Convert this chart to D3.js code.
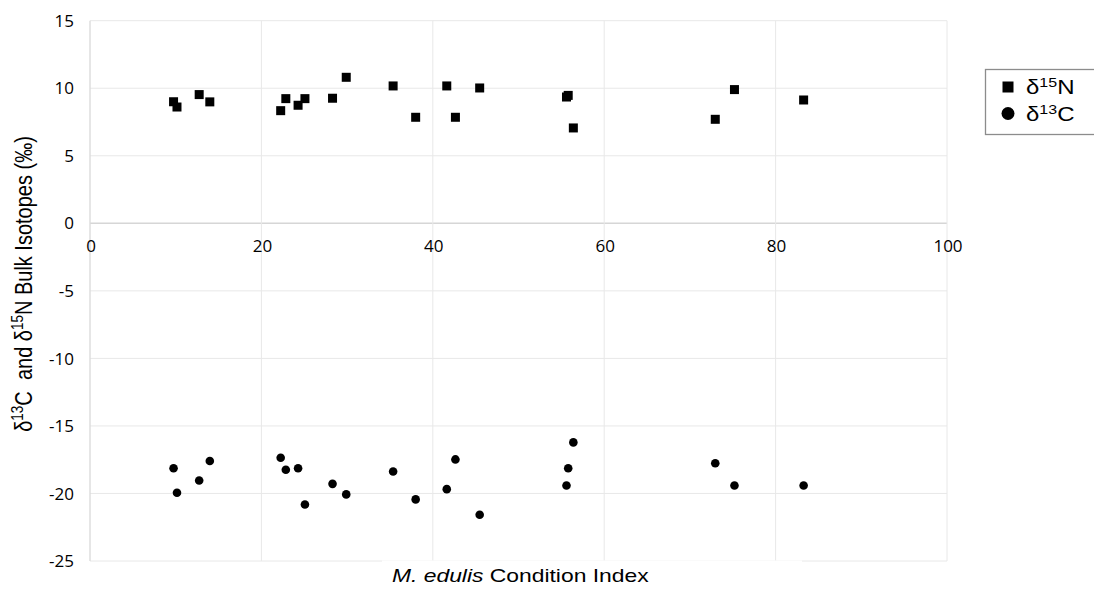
<!DOCTYPE html>
<html>
<head>
<meta charset="utf-8">
<script src="https://cdn.jsdelivr.net/npm/d3@7"></script>
<style>
  body { margin: 0; background: #fff; }
  svg { display: block; }
  text { white-space: pre; }
</style>
</head>
<body>
<svg id="chart" width="1094" height="591"></svg>
<script>
// condition index of each mussel sample
const conditionIndex = [9.75, 10.15, 12.74, 13.98, 22.25, 22.85, 24.28, 25.08, 28.3, 29.9, 35.37,
  38.0, 41.63, 42.64, 45.47, 55.6, 55.8, 56.4, 72.96, 75.2, 83.27];
// bulk d15N (per mil)
const d15N = [9.0, 8.61, 9.53, 8.99, 8.34, 9.23, 8.74, 9.23, 9.26, 10.81, 10.17,
  7.85, 10.17, 7.85, 10.02, 9.35, 9.47, 7.06, 7.7, 9.9, 9.13];
// bulk d13C (per mil)
const d13C = [-18.13, -19.95, -19.04, -17.6, -17.36, -18.25, -18.13, -20.82, -19.29, -20.07, -18.37,
  -20.44, -19.68, -17.48, -21.58, -19.41, -18.13, -16.22, -17.76, -19.41, -19.41];

const xTicks = [0, 20, 40, 60, 80, 100];
const yTicks = [-25, -20, -15, -10, -5, 0, 5, 10, 15];

const svg = d3.select("#chart");
const x = d3.scaleLinear().domain([0, 100]).range([90, 947]);
const y = d3.scaleLinear().domain([-25, 15]).range([561, 20.7]);

const tickFont = "'Open Sans', sans-serif";
const titleFont = "'Liberation Sans', Arial, sans-serif";
// the original picture is a little stretched sideways
const STRETCH = 1.23;

// grid
const grid = svg.append("g").attr("class", "grid");
grid.selectAll("line.h")
  .data(yTicks)
  .enter()
  .append("line")
  .attr("class", "h")
  .attr("x1", x(0))
  .attr("x2", x(100))
  .attr("y1", (d) => y(d))
  .attr("y2", (d) => y(d))
  .attr("stroke", (d) => (d === 0 ? "#d6d6d6" : "#e8e8e8"))
  .attr("stroke-width", (d) => (d === 0 ? 1.6 : 1));
grid.selectAll("line.v")
  .data(xTicks)
  .enter()
  .append("line")
  .attr("class", "v")
  .attr("x1", (d) => x(d))
  .attr("x2", (d) => x(d))
  .attr("y1", y(15))
  .attr("y2", y(-25))
  .attr("stroke", (d) => (d === 0 ? "#dcdcdc" : "#e8e8e8"))
  .attr("stroke-width", (d) => (d === 0 ? 1.4 : 1));

// y tick labels
svg.append("g")
  .selectAll("text")
  .data(yTicks)
  .enter()
  .append("text")
  .attr("x", 74)
  .attr("y", (d) => y(d))
  .attr("dy", "0.36em")
  .attr("text-anchor", "end")
  .attr("font-family", tickFont)
  .attr("font-size", 17)
  .attr("fill", "#000")
  .text((d) => d);

// x tick labels sit under the zero line
svg.append("g")
  .selectAll("text")
  .data(xTicks)
  .enter()
  .append("text")
  .attr("x", (d) => x(d) + 1)
  .attr("y", y(0) + 29)
  .attr("text-anchor", "middle")
  .attr("font-family", tickFont)
  .attr("font-size", 17)
  .attr("fill", "#000")
  .text((d) => d);

// d15N squares
const sq = 9;
svg.append("g")
  .selectAll("rect")
  .data(conditionIndex)
  .enter()
  .append("rect")
  .attr("x", (d) => x(d) - sq / 2)
  .attr("y", (d, i) => y(d15N[i]) - sq / 2)
  .attr("width", sq)
  .attr("height", sq)
  .attr("fill", "#000");

// d13C circles
svg.append("g")
  .selectAll("circle")
  .data(conditionIndex)
  .enter()
  .append("circle")
  .attr("cx", (d) => x(d))
  .attr("cy", (d, i) => y(d13C[i]))
  .attr("r", 4.3)
  .attr("fill", "#000");

// x title (its white box hides part of the frame)
svg.append("rect")
  .attr("x", 382)
  .attr("y", 560.5)
  .attr("width", 420)
  .attr("height", 31)
  .attr("fill", "#fff");
const xTitle = svg.append("text")
  .attr("transform", `translate(392,582) scale(${STRETCH},1)`)
  .attr("font-family", titleFont)
  .attr("font-size", 18.6)
  .attr("fill", "#000");
xTitle.append("tspan").attr("font-style", "italic").text("M. edulis");
xTitle.append("tspan").text(" Condition Index");

// y title
const yTitle = svg.append("text")
  .attr("transform", `translate(32,284) scale(${STRETCH},1) rotate(-90)`)
  .attr("text-anchor", "middle")
  .attr("font-family", titleFont)
  .attr("font-size", 20)
  .attr("fill", "#000");
yTitle.append("tspan").text("δ");
yTitle.append("tspan").attr("font-size", 13.5).attr("dy", -7).text("13");
yTitle.append("tspan").attr("dy", 7).text("C  and δ");
yTitle.append("tspan").attr("font-size", 13.5).attr("dy", -7).text("15");
yTitle.append("tspan").attr("dy", 7).text("N Bulk Isotopes (‰)");

// legend
const legend = svg.append("g").attr("class", "legend");
legend.append("rect")
  .attr("x", 985.5)
  .attr("y", 69.5)
  .attr("width", 120)
  .attr("height", 65)
  .attr("fill", "#fff")
  .attr("stroke", "#8c8c8c")
  .attr("stroke-width", 1.3);
legend.append("rect")
  .attr("x", 1008 - 5.5)
  .attr("y", 87 - 5.5)
  .attr("width", 11)
  .attr("height", 11)
  .attr("fill", "#000");
legend.append("ellipse")
  .attr("cx", 1008)
  .attr("cy", 113.5)
  .attr("rx", 6.5)
  .attr("ry", 6.5)
  .attr("fill", "#000");
[["15", "N", 93.5], ["13", "C", 120.5]].forEach(([sup, el, by]) => {
  const t = legend.append("text")
    .attr("transform", `translate(1026,${by}) scale(${STRETCH},1)`)
    .attr("font-family", titleFont)
    .attr("font-size", 19.5)
    .attr("fill", "#000");
  t.append("tspan").text("δ");
  t.append("tspan").attr("font-size", 13).attr("dy", -7).text(sup);
  t.append("tspan").attr("dy", 7).text(el);
});
</script>
</body>
</html>
